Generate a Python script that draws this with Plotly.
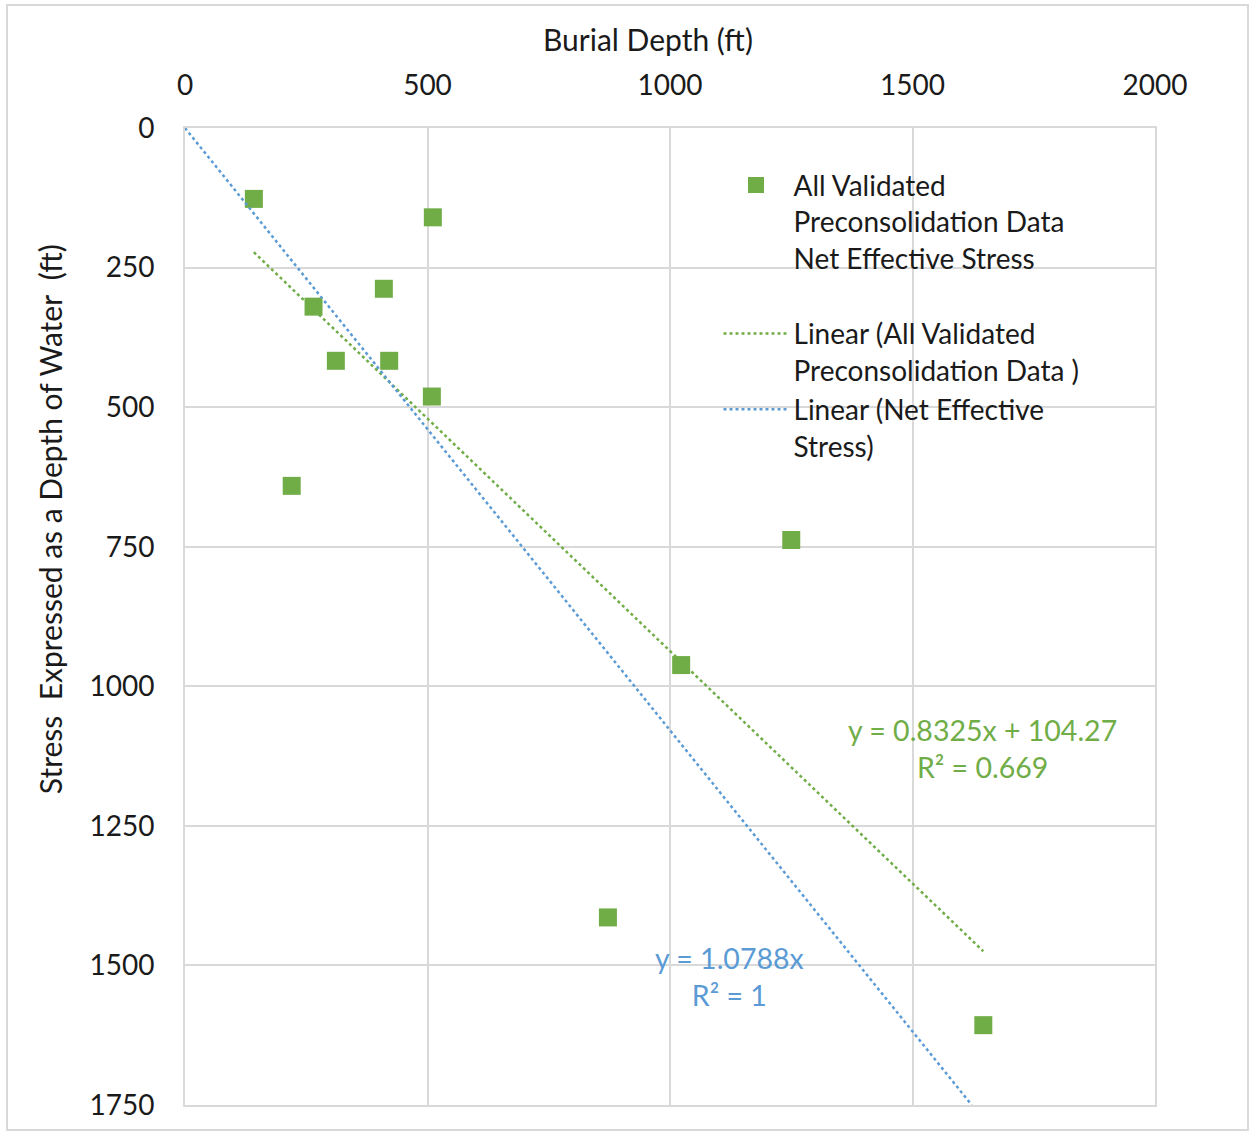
import plotly.graph_objects as go

# burial depth (ft) vs stress as depth of water (ft)
burial_depth = [142, 511, 410, 265, 311, 421, 509, 220, 1250, 1023, 872, 1646]
stress_depth = [127, 160, 288, 320, 417, 417, 481, 641, 738, 962, 1414, 1607]

# trendline coefficients as reported on the chart
green_slope, green_intercept, green_r2 = 0.8325, 104.27, 0.669
blue_slope, blue_r2 = 1.0788, 1

x_ticks = [0, 500, 1000, 1500, 2000]
y_ticks = [0, 250, 500, 750, 1000, 1250, 1500, 1750]

GREEN = "#70AD47"
BLUE = "#5B9BD5"
GRID = "#D9D9D9"
TEXT = "#1a1a1a"
FONT = "Lato"

green_x = [min(burial_depth), max(burial_depth)]
green_y = [green_slope * v + green_intercept for v in green_x]

blue_end = y_ticks[-1] / blue_slope
blue_x = [0, blue_end]
blue_y = [blue_slope * v for v in blue_x]

fig = go.Figure()

fig.add_trace(
    go.Scatter(
        x=burial_depth,
        y=stress_depth,
        mode="markers",
        marker=dict(symbol="square", size=18, color=GREEN),
        name="All Validated<br>Preconsolidation Data<br>Net Effective Stress<br>&nbsp;",
    )
)

fig.add_trace(
    go.Scatter(
        x=green_x,
        y=green_y,
        mode="lines",
        line=dict(color=GREEN, width=2.5, dash="dot"),
        name="Linear (All Validated<br>Preconsolidation Data )",
    )
)

fig.add_trace(
    go.Scatter(
        x=blue_x,
        y=blue_y,
        mode="lines",
        line=dict(color=BLUE, width=2.5, dash="dot"),
        name="Linear (Net Effective<br>Stress)",
    )
)

fig.add_annotation(
    x=1645, y=1112, xref="x", yref="y",
    text=f"y = {green_slope}x + {green_intercept}<br>R² = {green_r2}",
    showarrow=False, align="center",
    font=dict(color=GREEN, size=28.5, family=FONT),
)
fig.add_annotation(
    x=1122, y=1519, xref="x", yref="y",
    text=f"y = {blue_slope}x<br>R² = {blue_r2}",
    showarrow=False, align="center",
    font=dict(color=BLUE, size=28.5, family=FONT),
)

fig.add_annotation(
    x=0.477, y=1.091, xref="paper", yref="paper",
    xanchor="center", yanchor="middle",
    text="Burial Depth (ft)", showarrow=False,
    font=dict(size=30, family=FONT, color=TEXT),
)
fig.add_annotation(
    x=-0.139, y=0.5998, xref="paper", yref="paper",
    xanchor="center", yanchor="middle",
    text="Stress  Expressed as a Depth of Water  (ft)", showarrow=False,
    textangle=-90,
    font=dict(size=30, family=FONT, color=TEXT),
)

# outer chart frame
fig.add_shape(
    type="rect", xref="paper", yref="paper",
    x0=-0.1835, x1=1.0959, y0=-0.0256, y1=1.1259,
    line=dict(color=GRID, width=2),
)

fig.update_xaxes(
    side="top",
    range=[x_ticks[0], x_ticks[-1]],
    tickvals=x_ticks,
    showgrid=True, gridcolor=GRID, gridwidth=2,
    showline=True, linecolor=GRID, linewidth=2, mirror=True,
    zeroline=False,
    ticklabelstandoff=20,
    tickfont=dict(size=28, family=FONT, color=TEXT),
)
fig.update_yaxes(
    range=[y_ticks[-1], y_ticks[0]],
    tickvals=y_ticks,
    showgrid=True, gridcolor=GRID, gridwidth=2,
    showline=True, linecolor=GRID, linewidth=2, mirror=True,
    zeroline=False,
    ticklabelstandoff=23,
    tickfont=dict(size=28, family=FONT, color=TEXT),
)

fig.update_layout(
    width=1251,
    height=1133,
    margin=dict(l=185, r=96, t=128, b=28),
    paper_bgcolor="white",
    plot_bgcolor="white",
    font=dict(family=FONT, size=28, color=TEXT),
    legend=dict(
        x=0.55, y=0.967, xanchor="left", yanchor="top",
        bgcolor="rgba(0,0,0,0)",
        valign="top",
        itemwidth=65,
        font=dict(size=28, family=FONT, color=TEXT),
    ),
)

fig.write_html(
    "out.html",
    config={"displayModeBar": False},
    post_script="document.body.style.margin='0';",
)
